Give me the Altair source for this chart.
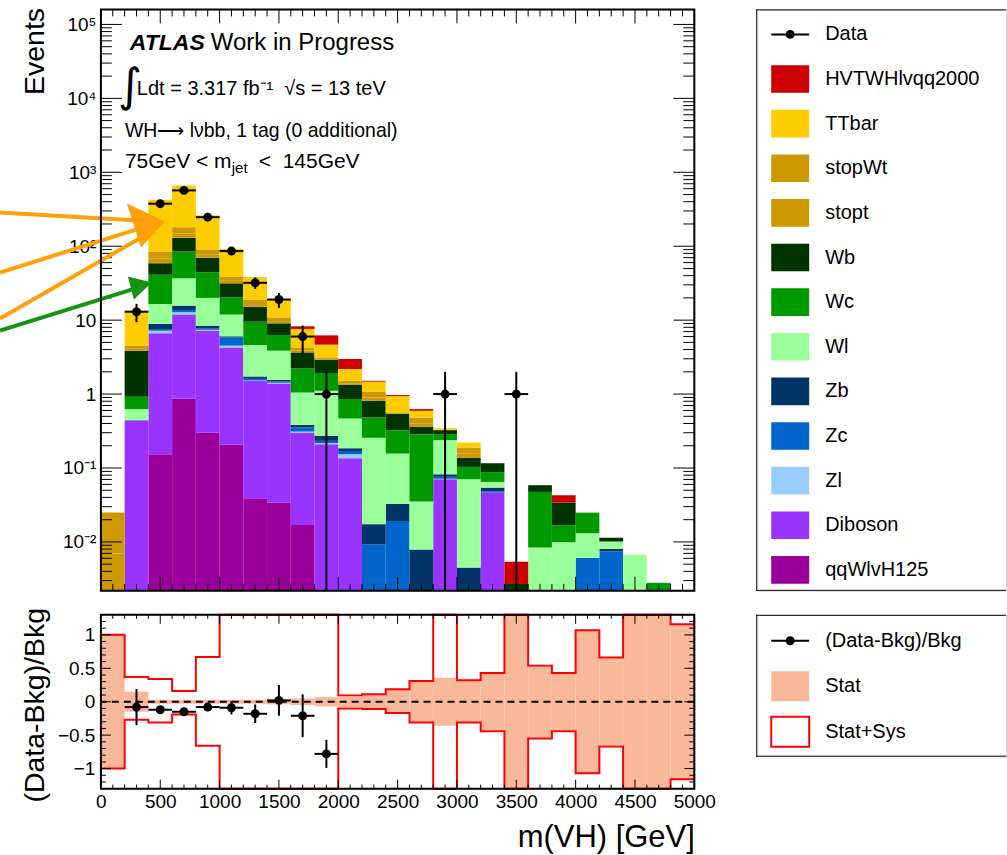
import math
import altair as alt
import pandas as pd

# ---------------- data ----------------
bin_edges = [0, 200, 400, 600, 800, 1000, 1200, 1400, 1600, 1800, 2000, 2200, 2400,
             2600, 2800, 3000, 3200, 3400, 3600, 3800, 4000, 4200, 4400, 4600, 4800, 5000]

process_names = ["qqWlvH125", "Diboson", "Zl", "Zc", "Zb", "Wl", "Wc", "Wb",
                 "stopt", "stopWt", "TTbar", "HVTWHlvqq2000"]
process_colors = ["#990099", "#9933ff", "#99ccff", "#0066cc", "#003366", "#99ff99",
                  "#009900", "#003300", "#cc9900", "#cc9900", "#ffcc00", "#cc0000"]

qqWlvH125 = [0, 0, 0.154, 0.863, 0.302, 0.206, 0.039, 0.034, 0.017, 0, 0, 0, 0, 0, 0, 0, 0, 0, 0, 0, 0, 0, 0, 0, 0]
Diboson = [0, 0.444, 6.47, 11.04, 6.9, 4.07, 1.46, 1.36, 0.282, 0.21, 0.136, 0, 0, 0, 0.0705, 0, 0.0465, 0, 0, 0, 0, 0, 0, 0, 0]
Zl = [0, 0, 0.58, 0.9, 0.2, 0.24, 0.03, 0.03, 0.012, 0.008, 0.018, 0, 0, 0, 0.001, 0, 0, 0, 0, 0, 0, 0, 0, 0, 0]
Zc = [0, 0, 0.4, 0.9, 0.4, 1.33, 0.08, 0.06, 0.042, 0.015, 0.016, 0.0093, 0.0192, 0, 0.0045, 0, 0.002, 0, 0, 0, 0.0061, 0.0075, 0, 0, 0]
Zb = [0, 0, 1.28, 2.0, 0.62, 0.2, 0.12, 0.07, 0.031, 0.039, 0.015, 0.0081, 0.0135, 0.0079, 0.0062, 0.0045, 0.0058, 0, 0, 0, 0, 0.0005, 0, 0, 0]
Wl = [0, 0.182, 7.7, 21.1, 11.58, 5.85, 2.88, 2.31, 0.666, 0.838, 0.282, 0.239, 0.124, 0.0272, 0.156, 0.066, 0.0105, 0, 0.0084, 0.0099, 0.007, 0.0021, 0.0067, 0, 0]
Wc = [0, 0.293, 24.4, 48, 24.4, 8.5, 4.94, 2.44, 1.17, 0.82, 0.389, 0.226, 0.168, 0.252, 0.049, 0.033, 0.0232, 0, 0.0391, 0.0069, 0.0118, 0, 0, 0.0028, 0]
Wb = [0, 2.94, 17.8, 45.2, 25.3, 11.1, 5.65, 2.75, 1.44, 0.99, 0.484, 0.329, 0.222, 0.073, 0.038, 0.0345, 0.028, 0.0027, 0.011, 0.0172, 0, 0.0013, 0, 0, 0]
stopt = [0.007, 0.23, 9, 18, 7, 2.5, 1.3, 0.65, 0.22, 0.07, 0.06, 0.09, 0, 0.042, 0.002, 0.018, 0, 0, 0, 0, 0, 0, 0, 0, 0]
stopWt = [0.018, 0.42, 17, 33, 13.5, 4.8, 2.5, 1.2, 0.4, 0.15, 0.11, 0.18, 0, 0.08, 0.003, 0.033, 0, 0, 0, 0, 0, 0, 0, 0, 0]
TTbar = [0, 8.9, 340, 483, 170.8, 53.4, 19.0, 8.2, 3.32, 1.52, 0.67, 0.39, 0.393, 0.112, 0.016, 0.032, 0, 0, 0, 0, 0, 0, 0, 0, 0]
HVTWHlvqq2000 = [0, 0, 0, 0, 0, 0, 0.1, 0.15, 0.65, 1.56, 0.8, 0.04, 0.03, 0.032, 0, 0, 0, 0.0027, 0, 0.0088, 0, 0, 0, 0, 0]

data_counts = [0, 13, 376, 569, 247, 86, 32, 19, 6, 1, 0, 0, 0, 0, 1, 0, 0, 1, 0, 0, 0, 0, 0, 0, 0]

ratio_vals = [None, -0.08, -0.12, -0.15, -0.08, -0.09, -0.18, 0.02, -0.21, -0.78,
              None, None, None, None, None, None, None, None, None, None, None, None, None, None, None]
ratio_errs = [None, 0.27, 0.05, 0.04, 0.06, 0.10, 0.14, 0.23, 0.32, 0.21,
              None, None, None, None, None, None, None, None, None, None, None, None, None, None, None]
stat_err = [1.0, 0.15, 0.03, 0.03, 0.03, 0.03, 0.03, 0.04, 0.05, 0.07, 0.08, 0.10, 0.18,
            0.31, 0.36, 0.31, 0.43, 9, 0.54, 0.43, 1.07, 0.65, 9, 9, 1.16]
syst_up = [1.0, 0.37, 0.34, 0.16, 0.67, 9, 9, 9, 9, 9, 0.095, 0.11, 0.185,
           0.31, 9, 0.32, 0.43, 9, 0.54, 0.43, 1.07, 0.66, 9, 9, 1.16]
syst_dn = [1.0, 0.27, 0.31, 0.19, 0.66, 9, 9, 9, 9, 9, 0.10, 0.11, 0.17,
           0.31, 9, 0.31, 0.44, 9, 0.55, 0.44, 1.07, 0.67, 9, 9, 1.16]

legend_top_labels = ["Data", "HVTWHlvqq2000", "TTbar", "stopWt", "stopt", "Wb", "Wc", "Wl",
                     "Zb", "Zc", "Zl", "Diboson", "qqWlvH125"]
legend_bot_labels = ["(Data-Bkg)/Bkg", "Stat", "Stat+Sys"]

# annotation arrows (data coordinates: GeV, events)
orange_lines_x = [[-850, 311], [-850, 328], [-850, 354]]
orange_lines_y = [[286, 223], [44, 174], [10.5, 135]]
green_line_x = [-850, 286]
green_line_y = [7.2, 26.7]
orange_tip = (539, 216)
green_tip = (429, 32.2)

FONT = "Liberation Sans"
NB = "\u00a0"
W, H = 594, 582
RH = 174
LW, LH, LBH = 250, 582, 142

# ---------------- tables ----------------
series = [qqWlvH125, Diboson, Zl, Zc, Zb, Wl, Wc, Wb, stopt, stopWt, TTbar, HVTWHlvqq2000]
rows = []
cum = [0.0] * 25
for name, vals in zip(process_names, series):
    for i, v in enumerate(vals):
        lo = cum[i]
        hi = lo + v
        cum[i] = hi
        if v > 0:
            rows.append({"process": name, "x0": bin_edges[i], "x1": bin_edges[i + 1],
                         "y0": max(lo, 1e-4), "y1": hi})
stack_df = pd.DataFrame(rows)

drows = []
for i, n in enumerate(data_counts):
    if n > 0:
        e = math.sqrt(n)
        drows.append({"x0": bin_edges[i], "x1": bin_edges[i + 1],
                      "xc": (bin_edges[i] + bin_edges[i + 1]) / 2, "n": n,
                      "lo": max(n - e, 1e-4), "hi": n + e})
data_df = pd.DataFrame(drows)

rrows = []
for i, (v, e) in enumerate(zip(ratio_vals, ratio_errs)):
    if v is not None:
        rrows.append({"x0": bin_edges[i], "x1": bin_edges[i + 1],
                      "xc": (bin_edges[i] + bin_edges[i + 1]) / 2, "r": v,
                      "lo": v - e, "hi": v + e})
ratio_df = pd.DataFrame(rrows)

stat_df = pd.DataFrame({"x0": bin_edges[:-1], "x1": bin_edges[1:],
                        "lo": [-s for s in stat_err], "hi": stat_err})
step_df = pd.DataFrame({"edge": bin_edges,
                        "up": syst_up + [syst_up[-1]],
                        "dn": [-s for s in syst_dn] + [-syst_dn[-1]]})

y_lo, y_hi = 0.00218, 159600
y_major = [1e-2, 1e-1, 1, 10, 100, 1e3, 1e4, 1e5]
y_minor = [m * 10 ** k for k in range(-3, 6) for m in range(2, 10) if y_lo <= m * 10 ** k <= y_hi]
x_major = list(range(0, 5001, 500))
x_minor = [v for v in range(0, 5001, 100) if v % 500]
r_major = [-1, -0.5, 0, 0.5, 1]
r_minor = [round(k * 0.1, 1) for k in range(-12, 13) if k % 5]

dummy = pd.DataFrame({"a": [0]})

x_scale = alt.Scale(domain=[0, 5000], nice=False, zero=False)
y_scale = alt.Scale(type="log", domain=[y_lo, y_hi], nice=False, clamp=True)
ry_scale = alt.Scale(domain=[-1.3, 1.3], nice=False, zero=False, clamp=True)

y_label_expr = ("datum.value >= 99999 ? '10⁵' : datum.value >= 9999 ? '10⁴' : "
                "datum.value >= 999 ? '10³' : datum.value >= 99 ? '10²' : "
                "datum.value >= 9 ? '10' : datum.value >= 0.9 ? '1' : "
                "datum.value >= 0.09 ? '10⁻¹' : '10⁻²'")

AX_TOP_Y = alt.Axis(values=y_major, labelExpr=y_label_expr, labelFontSize=19,
                    labelPadding=5, ticks=False, domain=False, grid=False,
                    title="Events", titleFontSize=28.5, titleFontWeight="normal",
                    titleAngle=270, titleAlign="right", titleBaseline="alphabetic",
                    titleX=-57, titleY=-2)
AX_R_X = alt.Axis(values=x_major, format="d", labelFontSize=19, labelPadding=4,
                  labelBaseline="top", ticks=False, domain=False, grid=False,
                  labelFlush=False, labelOverlap=False,
                  title="m(VH) [GeV]", titleFontSize=31, titleFontWeight="normal",
                  titleAlign="right", titleAnchor="end", titleBaseline="alphabetic",
                  titleX=W, titleY=58)
AX_R_Y = alt.Axis(values=r_major, labelExpr="replace(format(datum.value, '~g'), '-', '−')",
                  labelFontSize=19, labelPadding=6, ticks=False, domain=False, grid=False,
                  title="(Data-Bkg)/Bkg", titleFontSize=28.5, titleFontWeight="normal",
                  titleAngle=270, titleAlign="center", titleBaseline="alphabetic",
                  titleX=-57, titleY=90)


def x_ticks(vals, length, height, xax):
    df = pd.DataFrame({"v": vals})
    base = alt.Chart(df).mark_rule(color="black", strokeWidth=1)
    return [
        base.encode(x=alt.X("v:Q", axis=xax), y=alt.value(height), y2=alt.value(height - length)),
        base.encode(x=alt.X("v:Q", axis=xax), y=alt.value(0), y2=alt.value(length)),
    ]


def y_ticks(vals, length, width_px, yax):
    df = pd.DataFrame({"v": vals})
    base = alt.Chart(df).mark_rule(color="black", strokeWidth=1)
    return [
        base.encode(y=alt.Y("v:Q", axis=yax), x=alt.value(0), x2=alt.value(length)),
        base.encode(y=alt.Y("v:Q", axis=yax), x=alt.value(width_px), x2=alt.value(width_px - length)),
    ]


def frame(w, h):
    return alt.Chart(dummy).mark_rect(fillOpacity=0, stroke="black", strokeWidth=2).encode(
        x=alt.value(0), x2=alt.value(w), y=alt.value(0), y2=alt.value(h))


def text(t, x, y, size=20, **kw):
    return alt.Chart(dummy).mark_text(text=t, align="left", baseline="alphabetic",
                                      fontSize=size, color="black", **kw).encode(
        x=alt.value(x), y=alt.value(y))


# ---------------- top panel ----------------
bars = alt.Chart(stack_df).mark_rect().encode(
    x=alt.X("x0:Q", scale=x_scale, axis=None),
    x2="x1:Q",
    y=alt.Y("y0:Q", scale=y_scale, axis=AX_TOP_Y),
    y2="y1:Q",
    color=alt.Color("process:N", scale=alt.Scale(domain=process_names, range=process_colors),
                    legend=None),
)

d_err_v = alt.Chart(data_df).mark_rule(color="black", strokeWidth=2).encode(
    x=alt.X("xc:Q", axis=None), y=alt.Y("lo:Q", axis=AX_TOP_Y), y2="hi:Q")
d_err_h = alt.Chart(data_df).mark_rule(color="black", strokeWidth=2).encode(
    x=alt.X("x0:Q", axis=None), x2="x1:Q", y=alt.Y("n:Q", axis=AX_TOP_Y))
d_pts = alt.Chart(data_df).mark_circle(size=80, color="black", opacity=1).encode(
    x=alt.X("xc:Q", axis=None), y=alt.Y("n:Q", axis=AX_TOP_Y))

orange_rows = []
for k, (xs, ys) in enumerate(zip(orange_lines_x, orange_lines_y)):
    for j in range(2):
        orange_rows.append({"id": k, "o": j, "x": xs[j], "y": ys[j]})
orange_df = pd.DataFrame(orange_rows)
green_df = pd.DataFrame({"id": [0, 0], "o": [0, 1], "x": green_line_x, "y": green_line_y})

ORANGE = "#ff9f0a"
GREEN = "#139513"
arrow_o = alt.Chart(orange_df).mark_line(color=ORANGE, strokeWidth=4).encode(
    x=alt.X("x:Q", axis=None), y=alt.Y("y:Q", axis=AX_TOP_Y), detail="id:N", order="o:Q")
arrow_g = alt.Chart(green_df).mark_line(color=GREEN, strokeWidth=4).encode(
    x=alt.X("x:Q", axis=None), y=alt.Y("y:Q", axis=AX_TOP_Y), detail="id:N", order="o:Q")
head_o = alt.Chart(pd.DataFrame({"x": [orange_tip[0]], "y": [orange_tip[1]]})).mark_point(
    shape="M0,0 L-1.9,-0.9 L-1.2,1.3 Z", size=1600, filled=True, color=ORANGE,
    opacity=1, strokeWidth=0).encode(x=alt.X("x:Q", axis=None), y=alt.Y("y:Q", axis=AX_TOP_Y))
head_g = alt.Chart(pd.DataFrame({"x": [green_tip[0]], "y": [green_tip[1]]})).mark_point(
    shape="M0,0 L-1.2,-0.3 L-0.9,0.85 Z", size=1600, filled=True, color=GREEN,
    opacity=1, strokeWidth=0).encode(x=alt.X("x:Q", axis=None), y=alt.Y("y:Q", axis=AX_TOP_Y))

annots = [
    text("ATLAS", 29, 41, 23, fontWeight="bold", fontStyle="italic"),
    text("Work in Progress", 110, 41, 24),
    alt.Chart(dummy).mark_text(text="∫", align="left", baseline="middle", fontSize=46,
                               font="DejaVu Sans", color="black").encode(
        x=alt.value(17), y=alt.value(78)),
    text("Ldt = 3.317 fb⁻¹" + NB + NB + "√s = 13 teV", 36, 86, 20),
    text("WH⟶" + NB + "lνbb, 1 tag (0 additional)", 24, 128, 19.5),
    text("75GeV < m", 24, 159, 21),
    text("jet", 131, 164, 15),
    text("<" + NB + NB + "145GeV", 158, 159, 21),
]

top_layers = [bars, d_err_v, d_err_h, d_pts]
top_layers += x_ticks(x_major, 14, H, None) + x_ticks(x_minor, 7, H, None)
top_layers += y_ticks(y_major, 21, W, AX_TOP_Y) + y_ticks(y_minor, 11, W, AX_TOP_Y)
top_layers += annots + [arrow_o, arrow_g, head_o, head_g, frame(W, H)]
top = alt.layer(*top_layers).properties(width=W, height=H)

# ---------------- ratio panel ----------------
STAT = "#fab89a"
band = alt.Chart(stat_df).mark_rect(color=STAT).encode(
    x=alt.X("x0:Q", scale=x_scale, axis=AX_R_X),
    x2="x1:Q",
    y=alt.Y("lo:Q", scale=ry_scale, axis=AX_R_Y),
    y2="hi:Q",
)
up_line = alt.Chart(step_df).mark_line(color="#ff0000", strokeWidth=2, interpolate="step-after").encode(
    x=alt.X("edge:Q", axis=AX_R_X), y=alt.Y("up:Q", axis=AX_R_Y))
dn_line = alt.Chart(step_df).mark_line(color="#ff0000", strokeWidth=2, interpolate="step-after").encode(
    x=alt.X("edge:Q", axis=AX_R_X), y=alt.Y("dn:Q", axis=AX_R_Y))
zero_line = alt.Chart(dummy).mark_rule(color="black", strokeWidth=2, strokeDash=[7, 5]).encode(
    y=alt.datum(0, axis=AX_R_Y))
r_err_v = alt.Chart(ratio_df).mark_rule(color="black", strokeWidth=2).encode(
    x=alt.X("xc:Q", axis=AX_R_X), y=alt.Y("lo:Q", axis=AX_R_Y), y2="hi:Q")
r_err_h = alt.Chart(ratio_df).mark_rule(color="black", strokeWidth=2).encode(
    x=alt.X("x0:Q", axis=AX_R_X), x2="x1:Q", y=alt.Y("r:Q", axis=AX_R_Y))
r_pts = alt.Chart(ratio_df).mark_circle(size=80, color="black", opacity=1).encode(
    x=alt.X("xc:Q", axis=AX_R_X), y=alt.Y("r:Q", axis=AX_R_Y))

ratio_layers = [band, up_line, dn_line, zero_line, r_err_v, r_err_h, r_pts]
ratio_layers += x_ticks(x_major, 9, RH, AX_R_X) + x_ticks(x_minor, 4, RH, AX_R_X)
ratio_layers += y_ticks(r_major, 10, W, AX_R_Y) + y_ticks(r_minor, 5, W, AX_R_Y)
ratio_layers += [frame(W, RH)]
ratio = alt.layer(*ratio_layers).properties(width=W, height=RH)


# ---------------- legends ----------------
def box(w, h):
    base = alt.Chart(dummy).mark_rule(color="black", strokeWidth=1)
    return [
        base.encode(x=alt.value(0), x2=alt.value(w), y=alt.value(0.5)),
        base.encode(x=alt.value(0), x2=alt.value(w), y=alt.value(h - 0.5)),
        base.encode(x=alt.value(0.5), y=alt.value(0), y2=alt.value(h)),
    ]


leg_colors = ["black"] + [process_colors[process_names.index(n)] for n in legend_top_labels[1:]]
leg_df = pd.DataFrame({"label": legend_top_labels, "idx": list(range(len(legend_top_labels))),
                       "color": leg_colors})
leg_df["y0"] = leg_df["idx"] - 0.31
leg_df["y1"] = leg_df["idx"] + 0.31
ly = alt.Scale(domain=[-0.56, 12.47], reverse=True, nice=False, zero=False)

sw = alt.Chart(leg_df[leg_df.idx > 0]).mark_rect().encode(
    y=alt.Y("y0:Q", scale=ly, axis=None), y2="y1:Q",
    x=alt.value(15), x2=alt.value(53), color=alt.Color("color:N", scale=None))
lt = alt.Chart(leg_df).mark_text(align="left", baseline="middle", fontSize=20, color="black").encode(
    y=alt.Y("idx:Q", scale=ly, axis=None), x=alt.value(69), text="label:N")
ld_line = alt.Chart(leg_df[leg_df.idx == 0]).mark_rule(color="black", strokeWidth=2).encode(
    y=alt.Y("idx:Q", scale=ly, axis=None), x=alt.value(15), x2=alt.value(53))
ld_pt = alt.Chart(leg_df[leg_df.idx == 0]).mark_circle(size=80, color="black", opacity=1).encode(
    y=alt.Y("idx:Q", scale=ly, axis=None), x=alt.value(34))
leg_top = alt.layer(sw, lt, ld_line, ld_pt, *box(LW, LH)).properties(width=LW, height=LH)

lb_df = pd.DataFrame({"label": legend_bot_labels, "idx": [0, 1, 2]})
lb_df["y0"] = lb_df["idx"] - 0.33
lb_df["y1"] = lb_df["idx"] + 0.33
lby = alt.Scale(domain=[-0.571, 2.55], reverse=True, nice=False, zero=False)
lb_text = alt.Chart(lb_df).mark_text(align="left", baseline="middle", fontSize=20, color="black").encode(
    y=alt.Y("idx:Q", scale=lby, axis=None), x=alt.value(69), text="label:N")
lb_line = alt.Chart(lb_df[lb_df.idx == 0]).mark_rule(color="black", strokeWidth=2).encode(
    y=alt.Y("idx:Q", scale=lby, axis=None), x=alt.value(15), x2=alt.value(53))
lb_pt = alt.Chart(lb_df[lb_df.idx == 0]).mark_circle(size=80, color="black", opacity=1).encode(
    y=alt.Y("idx:Q", scale=lby, axis=None), x=alt.value(34))
lb_stat = alt.Chart(lb_df[lb_df.idx == 1]).mark_rect(color=STAT).encode(
    y=alt.Y("y0:Q", scale=lby, axis=None), y2="y1:Q", x=alt.value(15), x2=alt.value(53))
lb_sys = alt.Chart(lb_df[lb_df.idx == 2]).mark_rect(fillOpacity=0, stroke="#ff0000", strokeWidth=2).encode(
    y=alt.Y("y0:Q", scale=lby, axis=None), y2="y1:Q", x=alt.value(15), x2=alt.value(53))
leg_bot = alt.layer(lb_stat, lb_sys, lb_line, lb_pt, lb_text, *box(LW, LBH)).properties(width=LW, height=LBH)

chart = alt.concat(top, leg_top, ratio, leg_bot, columns=2,
                   spacing=alt.RowColnumber(row=24, column=62), bounds="flush").properties(
    padding={"left": -9, "top": 6, "right": 0, "bottom": 0}
).configure_view(stroke=None).configure(font=FONT)

chart.save("out.html", embed_options={"renderer": "svg", "actions": False})
